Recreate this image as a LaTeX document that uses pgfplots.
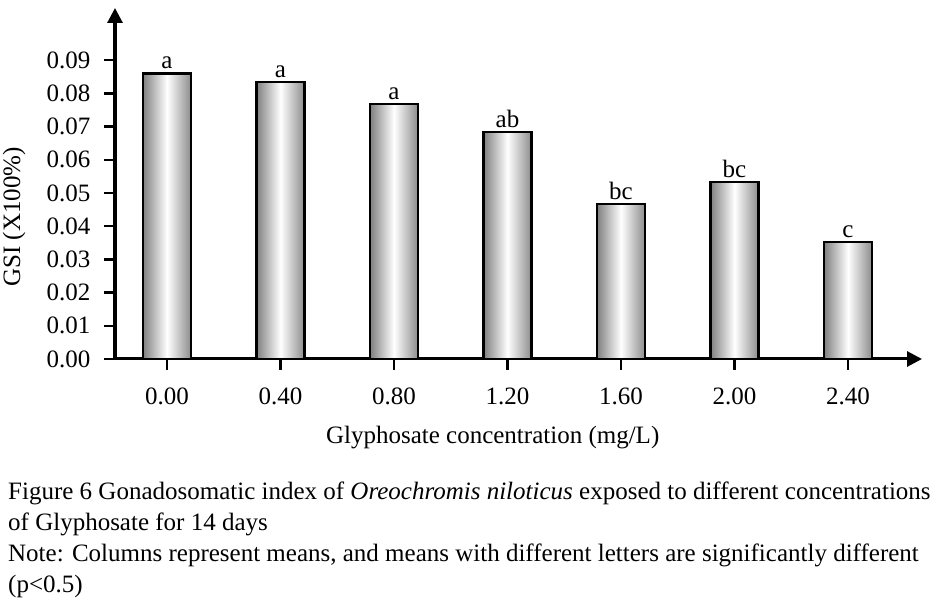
\documentclass[border=0pt]{standalone}
\usepackage{fontspec}
\setmainfont{Liberation Serif}
\usepackage{pgfplots}
\pgfplotsset{compat=1.18}
\usepackage{pgfplotstable}
\usetikzlibrary{arrows.meta}

\pgfplotstableread{
x y lab
0 0.0860 a
1 0.0834 a
2 0.0768 a
3 0.0684 ab
4 0.0467 bc
5 0.0533 bc
6 0.0352 c
}\gsi

\newcommand{\fs}{\fontsize{25bp}{29bp}\selectfont}

\begin{document}
\fs
\begin{tikzpicture}
\path[use as bounding box] (0,0) rectangle (952bp,615bp);
\begin{axis}[
  at={(115bp,256bp)}, anchor=south west,
  scale only axis, width=807bp, height=351bp,
  xmin=-0.458, xmax=6.652, ymin=0, ymax=0.1057,
  axis lines=left,
  axis line style={line width=3bp, -{Triangle[width=15bp,length=15bp]}},
  tick align=outside,
  major tick length=11bp,
  tick style={line width=2.5bp, black},
  xtick={0,...,6},
  xticklabels={0.00,0.40,0.80,1.20,1.60,2.00,2.40},
  ytick={0,0.01,...,0.09},
  yticklabel style={/pgf/number format/fixed, /pgf/number format/fixed zerofill,
    /pgf/number format/precision=2, xshift=-5bp},
  /pgf/number format/assume math mode=true,
  tick label style={font=\fs},
  xticklabel style={yshift=-9bp},
  label style={font=\fs},
  xlabel={Glyphosate concentration (mg/L)},
  ylabel={GSI (X100\%)},
  xlabel style={at={(axis description cs:0.468,-0.225)}, anchor=center},
  ylabel style={at={(axis description cs:-0.125,0.405)}, anchor=center},
  ybar, bar width=48bp, bar shift=0pt,
  nodes near coords,
  point meta=explicit symbolic,
  nodes near coords style={anchor=south, inner sep=3bp, font=\fs, text=black},
  clip=false,
]
\pgfplotsinvokeforeach{0,...,6}{
  \addplot[draw=black, line width=2.5bp, left color=black!50, right color=black!45, middle color=white,
    restrict x to domain=#1:#1]
    table[x=x, y=y, meta=lab] {\gsi};
}
\end{axis}
\node[anchor=base west, inner sep=0pt] at (8bp,115bp) {Figure 6 Gonadosomatic index of \textit{Oreochromis niloticus} exposed to different concentrations};
\node[anchor=base west, inner sep=0pt] at (8bp,84bp) {of Glyphosate for 14 days};
\node[anchor=base west, inner sep=0pt] at (8bp,53bp) {Note: Columns represent means, and means with different letters are significantly different};
\node[anchor=base west, inner sep=0pt] at (8bp,23bp) {(p<0.5)};
\end{tikzpicture}
\end{document}
